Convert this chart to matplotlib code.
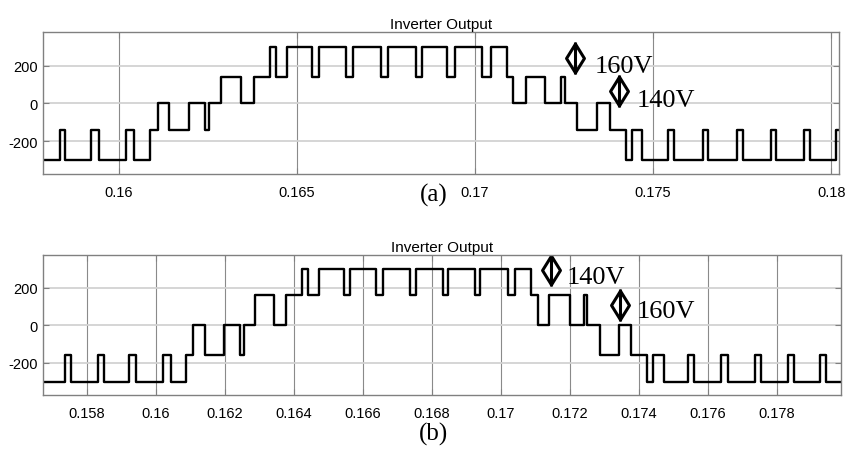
import numpy as np
import matplotlib
matplotlib.use('Agg')
import matplotlib.pyplot as plt
from matplotlib.path import Path

plt.rcParams['axes.unicode_minus'] = False

# panel (a): switching instants [s] and output level [V] after each instant
a_t = [0.15788, 0.15835, 0.15849, 0.15924, 0.15945, 0.16020, 0.16044, 0.16089, 0.16110, 0.16143,
       0.16198, 0.16244, 0.16254, 0.16289, 0.16343, 0.16379, 0.16426, 0.16443, 0.16472, 0.16544,
       0.16564, 0.16638, 0.16657, 0.16738, 0.16755, 0.16834, 0.16851, 0.16923, 0.16943, 0.17019,
       0.17044, 0.17089, 0.17106, 0.17143, 0.17198, 0.17242, 0.17252, 0.17286, 0.17342, 0.17378,
       0.17423, 0.17440, 0.17468, 0.17542, 0.17560, 0.17639, 0.17655, 0.17737, 0.17753, 0.17831,
       0.17846, 0.17923, 0.17941, 0.18015, 0.18022]
a_v = [-300, -140, -300, -140, -300, -140, -300, -140, 0, -140,
       0, -140, 0, 140, 0, 140, 300, 140, 300, 140,
       300, 140, 300, 140, 300, 140, 300, 140, 300, 140,
       300, 140, 0, 140, 0, 140, 0, -140, 0, -140,
       -300, -140, -300, -140, -300, -140, -300, -140, -300, -140,
       -300, -140, -300, -140, -140]

# panel (b)
b_t = [0.15672, 0.15735, 0.15753, 0.15832, 0.15848, 0.15922, 0.15942, 0.16019, 0.16042, 0.16086,
       0.16108, 0.16142, 0.16197, 0.16243, 0.16254, 0.16287, 0.16343, 0.16378, 0.16422, 0.16441,
       0.16473, 0.16544, 0.16563, 0.16638, 0.16658, 0.16737, 0.16754, 0.16832, 0.16846, 0.16925,
       0.16939, 0.17020, 0.17042, 0.17089, 0.17108, 0.17139, 0.17201, 0.17242, 0.17250, 0.17288,
       0.17344, 0.17378, 0.17423, 0.17441, 0.17474, 0.17543, 0.17561, 0.17638, 0.17658, 0.17737,
       0.17754, 0.17833, 0.17850, 0.17926, 0.17944, 0.17986]
b_v = [-300, -160, -300, -160, -300, -160, -300, -160, -300, -160,
       0, -160, 0, -160, 0, 160, 0, 160, 300, 160,
       300, 160, 300, 160, 300, 160, 300, 160, 300, 160,
       300, 160, 300, 160, 0, 160, 0, 160, 0, -160,
       0, -160, -300, -160, -300, -160, -300, -160, -300, -160,
       -300, -160, -300, -160, -300, -300]

a_xticks = [0.16, 0.165, 0.17, 0.175, 0.18]
a_xlabels = ['0.16', '0.165', '0.17', '0.175', '0.18']
b_xticks = [0.158, 0.16, 0.162, 0.164, 0.166, 0.168, 0.17, 0.172, 0.174, 0.176, 0.178]
b_xlabels = ['0.158', '0.16', '0.162', '0.164', '0.166', '0.168', '0.17', '0.172', '0.174', '0.176', '0.178']
yticks = [-200, 0, 200]

# step-size markers: (x, y centre, text x, text baseline, text)
a_notes = [(0.17282, 242, 0.17336, 168, '160V'), (0.17406, 65, 0.17453, -15, '140V')]
b_notes = [(0.17147, 297, 0.17191, 227, '140V'), (0.17345, 110, 0.17394, 44, '160V')]

# diamond with a vertical bar through it
verts = [(0, 0.9), (0.56, 0), (0, -0.9), (-0.56, 0), (0, 0.9), (0, 1), (0, -1)]
codes = [Path.MOVETO, Path.LINETO, Path.LINETO, Path.LINETO, Path.CLOSEPOLY, Path.MOVETO, Path.LINETO]
dmark = Path(verts, codes)

fig = plt.figure(figsize=(8.46, 4.52), dpi=100)
axa = fig.add_axes([0.0508, 0.6128, 0.9409, 0.3142])
axb = fig.add_axes([0.0508, 0.1245, 0.9429, 0.3091])


def style(ax, xticks, xlabels, xlim, ylim):
    ax.set_xlim(xlim)
    ax.set_ylim(ylim)
    ax.set_xticks(xticks)
    ax.set_xticklabels(xlabels)
    ax.set_yticks(yticks)
    ax.grid(axis='x', color='#8a8a8a', lw=0.8)
    ax.grid(axis='y', color='#d2d2d2', lw=1.3)
    ax.set_axisbelow(True)
    for s in ax.spines.values():
        s.set_color('#808080')
        s.set_linewidth(1.0)
    ax.tick_params(axis='both', direction='in', length=4, color='#808080',
                   top=True, right=True, labelsize=10.5)
    ax.tick_params(axis='x', pad=8)
    ax.tick_params(axis='y', pad=4)
    for lab in ax.get_xticklabels() + ax.get_yticklabels():
        lab.set_family('Liberation Sans')
    ax.set_title('Inverter Output', fontsize=11, family='Liberation Sans', pad=3)


def notes(ax, items):
    for x, y, tx, ty, s in items:
        ax.plot([x], [y], marker=dmark, ms=23, mfc='none', mec='k', mew=2.2, ls='none')
        ax.text(tx, ty, s, fontsize=19, family='Liberation Serif', va='baseline', ha='left')


axa.plot(a_t, a_v, drawstyle='steps-post', color='k', lw=1.7)
style(axa, a_xticks, a_xlabels, (0.15788, 0.18022), (-375, 378))
notes(axa, a_notes)

axb.plot(b_t, b_v, drawstyle='steps-post', color='k', lw=1.7)
style(axb, b_xticks, b_xlabels, (0.15672, 0.17986), (-370, 376))
notes(axb, b_notes)

fig.text(0.513, 0.5686, '(a)', fontsize=18, family='Liberation Serif', ha='center', va='center')
fig.text(0.513, 0.038, '(b)', fontsize=18, family='Liberation Serif', ha='center', va='center')

fig.savefig('out.png', dpi=100)
